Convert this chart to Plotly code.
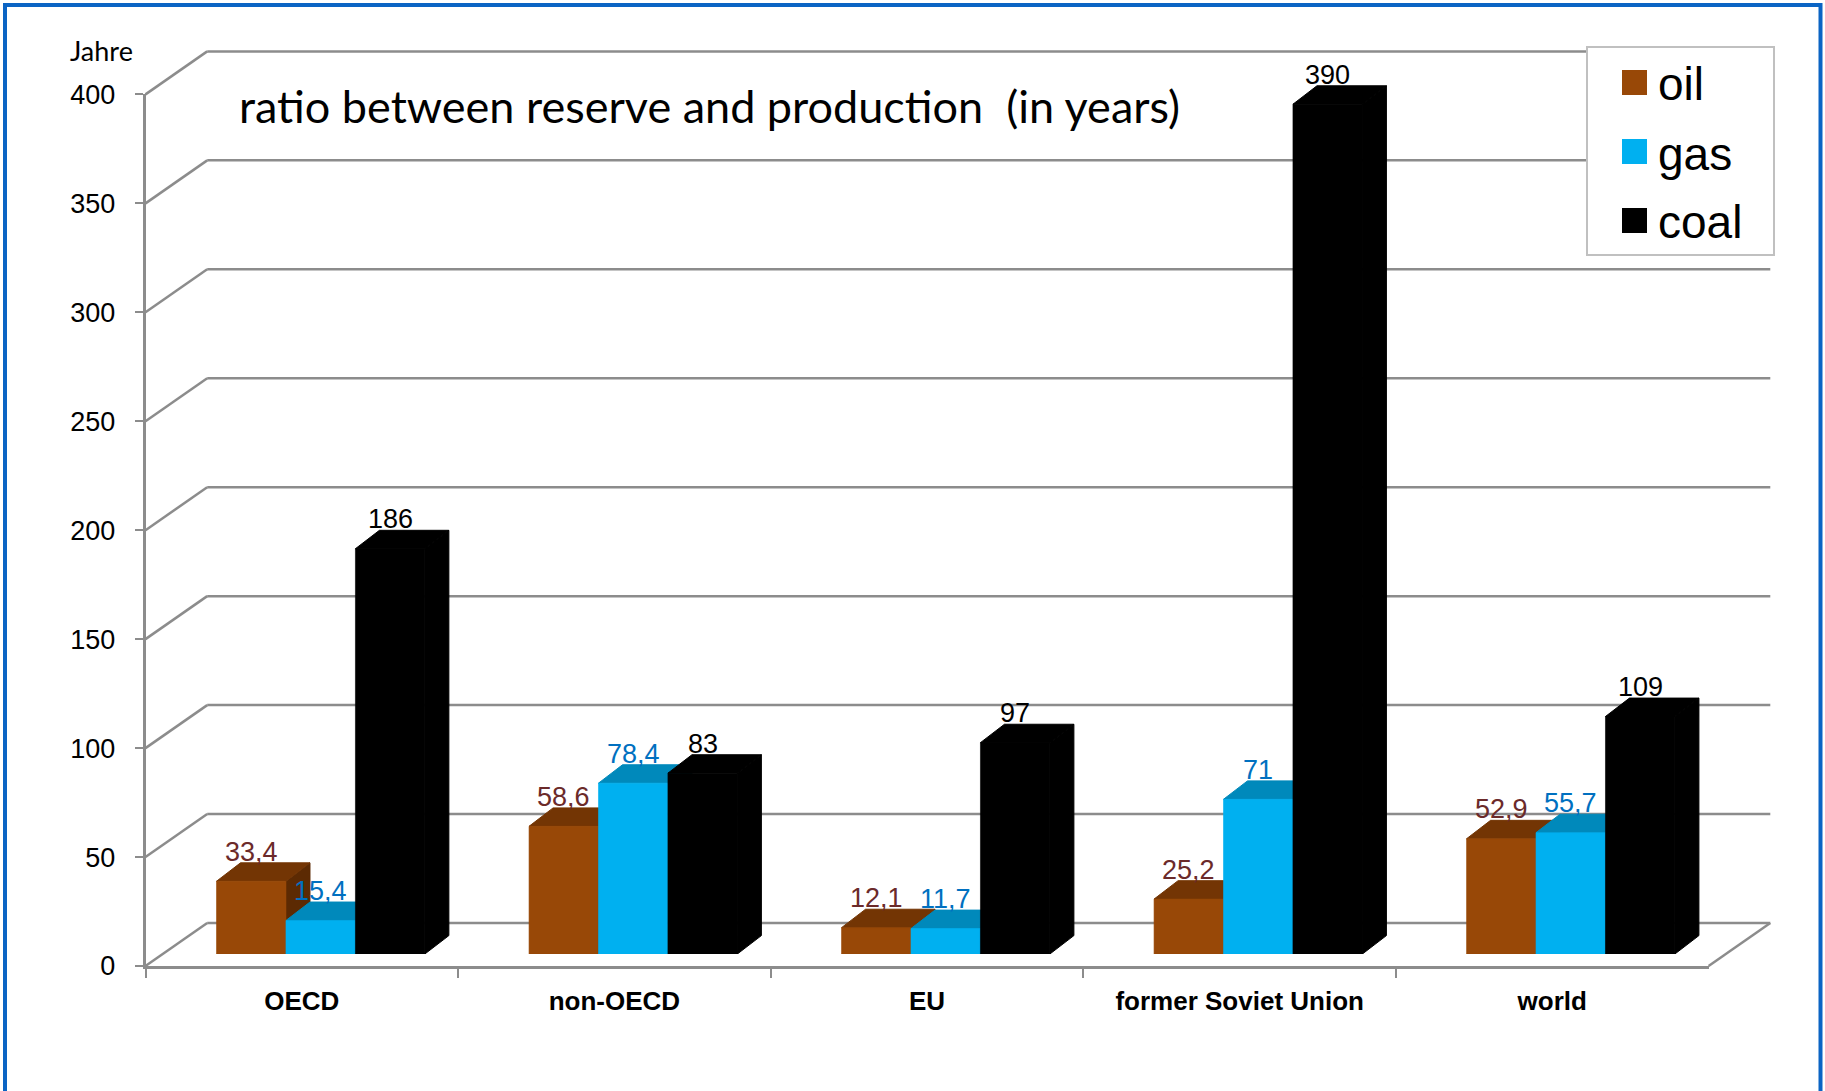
import plotly.graph_objects as go

# ---------------- data ----------------
categories = ["OECD", "non-OECD", "EU", "former Soviet Union", "world"]
oil = [33.4, 58.6, 12.1, 25.2, 52.9]
gas = [15.4, 78.4, 11.7, 71, 55.7]
coal = [186, 83, 97, 390, 109]
series_names = ["oil", "gas", "coal"]
y_ticks = [0, 50, 100, 150, 200, 250, 300, 350, 400]

# ---------------- styling / geometry ----------------
W, H = 1825, 1091
front_colors = ["#984807", "#00b0f0", "#000000"]
top_colors = ["#733504", "#0089bb", "#000000"]
side_colors = ["#5c2a03", "#00739e", "#000000"]
label_colors = ["#6b2a2a", "#0070c0", "#000000"]
grid_color = "#8c8c8c"

SCALE = 2.179            # px per year (value unit)
FX0, FX1 = 145.5, 1708.6  # front floor x-extent (px)
FY0 = 966.0               # front floor y (px)
BACK_DX, BACK_DY = 61.7, 43.0
BAR_Y0 = 954.0
BAR_X0, BAR_X1 = 164.45, 1727.0
BAR_DX, BAR_DY = 24.0, 18.4

ymax = y_ticks[-1]


def px(p):
    return p / W


def py(p):
    return 1 - p / H


fig = go.Figure()

values = [oil, gas, coal]
xs = list(range(len(categories)))
for name, vals, col in zip(series_names, values, front_colors):
    fig.add_trace(go.Bar(x=xs, y=vals, name=name,
                         marker=dict(color=col, line=dict(width=0.6, color=col)),
                         showlegend=False, hoverinfo="skip", xaxis="x", yaxis="y"))

# invisible trace to build the front frame axes
fig.add_trace(go.Scatter(x=categories, y=[0] * len(categories), mode="markers",
                         marker=dict(opacity=0), showlegend=False, hoverinfo="skip",
                         xaxis="x2", yaxis="y2"))

shapes = []
# back wall grid + connecting diagonals
back_off = BACK_DY / SCALE
for v in y_ticks:
    shapes.append(dict(type="line", xref="paper", yref="y2 domain",
                       x0=px(FX0 + BACK_DX), x1=px(FX1 + BACK_DX),
                       y0=(v + back_off) / ymax, y1=(v + back_off) / ymax,
                       line=dict(color=grid_color, width=2.5), layer="below"))
    shapes.append(dict(type="line", xref="paper", yref="y2 domain",
                       x0=px(FX0), x1=px(FX0 + BACK_DX),
                       y0=v / ymax, y1=(v + back_off) / ymax,
                       line=dict(color=grid_color, width=2.5), layer="below"))
# right floor edge
shapes.append(dict(type="line", xref="paper", yref="y2 domain",
                   x0=px(FX1), x1=px(FX1 + BACK_DX), y0=0, y1=back_off / ymax,
                   line=dict(color=grid_color, width=2.5), layer="below"))

# 3D faces of bars
cat_px = (BAR_X1 - BAR_X0) / len(categories)
dxu = BAR_DX / cat_px
dyu = BAR_DY / SCALE
group_w = 2 / 3
bw = group_w / 3
sides, tops, annots = [], [], []
for j, vals in enumerate(values):
    for i, v in enumerate(vals):
        xl = i - group_w / 2 + j * bw
        xr = xl + bw
        sides.append(dict(type="path", xref="x", yref="y",
                          path=f"M{xr},0 L{xr + dxu},{dyu} L{xr + dxu},{v + dyu} L{xr},{v} Z",
                          fillcolor=side_colors[j], line=dict(width=1, color=side_colors[j]),
                          layer="below"))
        tops.append(dict(type="path", xref="x", yref="y",
                         path=f"M{xl},{v} L{xr},{v} L{xr + dxu},{v + dyu} L{xl + dxu},{v + dyu} Z",
                         fillcolor=top_colors[j], line=dict(width=1, color=top_colors[j]),
                         layer="below"))
        annots.append(dict(x=(xl + xr) / 2, y=v + dyu, xref="x", yref="y",
                           text=f"{v:g}".replace(".", ","), showarrow=False,
                           xanchor="center", yanchor="bottom", yshift=-6,
                           font=dict(family="Liberation Sans, Arial", size=27, color=label_colors[j])))
shapes += sides + tops

# legend (box, swatches)
leg_x0, leg_x1, leg_y0, leg_y1 = 1587, 1774, 47, 255
shapes.append(dict(type="rect", xref="paper", yref="paper",
                   x0=px(leg_x0), x1=px(leg_x1), y0=py(leg_y1), y1=py(leg_y0),
                   fillcolor="white", line=dict(color="#c0c0c0", width=2), layer="above"))
row_y = [82.5, 151.5, 220.5]
for j, name in enumerate(series_names):
    shapes.append(dict(type="rect", xref="paper", yref="paper",
                       x0=px(1622), x1=px(1647), y0=py(row_y[j] + 12.5), y1=py(row_y[j] - 12.5),
                       fillcolor=front_colors[j], line=dict(width=0), layer="above"))
    annots.append(dict(x=px(1656), y=py(row_y[j] + 2), xref="paper", yref="paper",
                       text=name, showarrow=False, xanchor="left", yanchor="middle",
                       font=dict(family="Liberation Sans, Arial", size=46, color="black")))

# blue frame
border = "#0b64c4"
shapes.append(dict(type="line", xref="paper", yref="paper", x0=px(5), x1=px(5), y0=0, y1=py(3),
                   line=dict(color=border, width=4), layer="above"))
shapes.append(dict(type="line", xref="paper", yref="paper", x0=px(3), x1=px(1822), y0=py(5), y1=py(5),
                   line=dict(color=border, width=4), layer="above"))
shapes.append(dict(type="line", xref="paper", yref="paper", x0=px(1820.5), x1=px(1820.5), y0=0, y1=py(3),
                   line=dict(color=border, width=4), layer="above"))

# title & unit
annots.append(dict(x=px(237), y=py(106), xref="paper", yref="paper",
                   text="ratio between reserve and production \u00a0(in years)", showarrow=False,
                   xanchor="left", yanchor="middle",
                   font=dict(family="Lato", size=45, color="black")))
annots.append(dict(x=px(68), y=py(50), xref="paper", yref="paper",
                   text="Jahre", showarrow=False, xanchor="left", yanchor="middle",
                   font=dict(family="Lato", size=27, color="black")))

fig.update_layout(
    template="none",
    width=W, height=H, autosize=False,
    margin=dict(l=0, r=0, t=0, b=0, pad=0, autoexpand=False),
    paper_bgcolor="white", plot_bgcolor="rgba(0,0,0,0)",
    barmode="group", bargap=1 / 3, bargroupgap=0,
    showlegend=False,
    shapes=shapes, annotations=annots,
    xaxis=dict(domain=[px(BAR_X0), px(BAR_X1)], range=[-0.5, len(categories) - 0.5],
               showgrid=False, zeroline=False, showline=False, showticklabels=False, ticks="",
               anchor="y", fixedrange=True, automargin=False),
    yaxis=dict(domain=[py(BAR_Y0), py(BAR_Y0 - ymax * SCALE)], range=[0, ymax],
               showgrid=False, zeroline=False, showline=False, showticklabels=False, ticks="",
               anchor="x", fixedrange=True, automargin=False),
    xaxis2=dict(domain=[px(FX0), px(FX1)], type="category", categoryorder="array",
                categoryarray=categories, range=[-0.5, len(categories) - 0.5],
                anchor="y2", showgrid=False, zeroline=False, showline=True,
                linecolor=grid_color, linewidth=2.5, ticks="outside", tickson="boundaries",
                ticklen=9, tickwidth=2, tickcolor=grid_color, ticklabelstandoff=10,
                tickfont=dict(family="Liberation Sans, Arial", size=26, color="black",
                              weight="bold"),
                fixedrange=True, automargin=False),
    yaxis2=dict(domain=[py(FY0), py(FY0 - ymax * SCALE)], range=[0, ymax],
                anchor="x2", showgrid=False, zeroline=False, showline=True,
                linecolor=grid_color, linewidth=2.5, ticks="outside", ticklen=8,
                tickwidth=2, tickcolor=grid_color, tickvals=y_ticks,
                ticklabelstandoff=14,
                tickfont=dict(family="Liberation Sans, Arial", size=27, color="black"),
                fixedrange=True, automargin=False),
)

fig.write_html("out.html")
